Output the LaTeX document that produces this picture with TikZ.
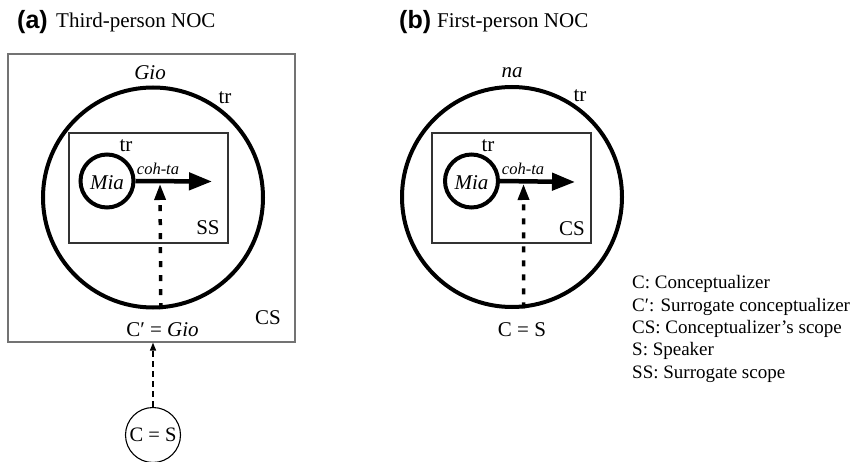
\documentclass[tikz,border=0pt]{standalone}
\usepackage{fontspec}
\setmainfont{Liberation Serif}
\newfontfamily\headfont{Liberation Sans}
\usetikzlibrary{arrows.meta}

\tikzset{
  txt/.style={inner sep=0pt, font=\fontsize{21}{25}\selectfont},
  ittxt/.style={inner sep=0pt, font=\fontsize{21}{25}\selectfont\itshape},
  smalltxt/.style={inner sep=0pt, font=\fontsize{16.5}{20}\selectfont\itshape},
  legend/.style={inner sep=0pt, anchor=base west, font=\fontsize{19}{22}\selectfont},
  panelhead/.style={inner sep=0pt, anchor=base west, font=\headfont\bfseries\fontsize{25}{29}\selectfont},
  paneltitle/.style={inner sep=0pt, anchor=base west, font=\fontsize{21}{25}\selectfont},
  ring/.style={draw, circle, line width=4pt, inner sep=0pt},
  scopebox/.style={draw=black!55, line width=1.2pt, inner sep=0pt},
  innerbox/.style={draw=black!80, line width=1.2pt, inner sep=0pt},
  speaker/.style={draw, circle, line width=1.1pt, inner sep=0pt, minimum size=55pt,
    font=\fontsize{20.5}{24}\selectfont},
  profile/.style={line width=4.5pt, -{Triangle[length=23pt,width=17pt]}},
  viewline/.style={line width=3.5pt, dash pattern=on 6pt off 8pt,
    -{Triangle[length=16pt,width=11pt]}},
  linkline/.style={line width=1.4pt, dash pattern=on 6pt off 4pt,
    -{Triangle[length=8pt,width=6pt]}}
}

\begin{document}
\begin{tikzpicture}[x=1pt,y=-1pt]
\useasboundingbox (0,0) rectangle (854,462);

% ---------- (a) Third-person NOC ----------
\node[panelhead] (hA) at (17,28.5) {(a)};
\node[paneltitle] (tA) at (56,28) {Third-person NOC};

\node[scopebox, minimum width=287pt, minimum height=288pt] (csA) at (151.5,198) {};
\node[ring, minimum size=220pt] (ringA) at (153,197.5) {};
\node[innerbox, minimum width=159pt, minimum height=110pt] (ssA) at (148.5,188) {};
\node[ring, minimum size=53pt] (miaA) at (107,181) {};
\node[ittxt] (miaAtxt) at (107,183) {Mia};

\coordinate (tipA) at (212,181.5);
\draw[profile] (miaA.east) -- (tipA);
\coordinate (hitA) at (160,184);
\draw[viewline] (ringA.-86.3) -- (hitA);

\node[ittxt] (gioA) at (150,73) {Gio};
\node[txt] (trA) at (225,98) {tr};
\node[txt] (trmA) at (126,146) {tr};
\node[smalltxt] (cohA) at (158,169) {coh-ta};
\node[txt] (ssAlab) at (208,228) {SS};
\node[txt] (csAlab) at (268,318) {CS};
\node[txt] (cprA) at (162.5,330) {C′ = \textit{Gio}};

\node[speaker] (spA) at (153,435) {C = S};
\draw[linkline] (spA.north) -- (spA.north |- csA.south);

% ---------- (b) First-person NOC ----------
\node[panelhead] (hB) at (399,28.5) {(b)};
\node[paneltitle] (tB) at (437,28) {First-person NOC};

\node[ring, minimum size=220pt] (ringB) at (512,197) {};
\node[innerbox, minimum width=159pt, minimum height=110pt] (csB) at (511.5,188) {};
\node[ring, minimum size=53pt] (miaB) at (471.5,181) {};
\node[ittxt] (miaBtxt) at (471.5,183) {Mia};

\coordinate (tipB) at (575,182);
\draw[profile] (miaB.east) -- (tipB);
\coordinate (hitB) at (523.5,184);
\draw[viewline] (ringB.-84.2) -- (hitB);

\node[ittxt] (naB) at (512,73) {na};
\node[txt] (trB) at (580,96) {tr};
\node[txt] (trmB) at (488,146) {tr};
\node[smalltxt] (cohB) at (523,169) {coh-ta};
\node[txt] (csBlab) at (572,229) {CS};
\node[txt] (spB) at (522,330) {C = S};

% ---------- key ----------
\node[legend] (k1) at (632,289) {C: Conceptualizer};
\node[legend] (k2) at (632,311.3) {C′: Surrogate conceptualizer};
\node[legend] (k3) at (632,333.6) {CS: Conceptualizer’s scope};
\node[legend] (k4) at (632,355.9) {S: Speaker};
\node[legend] (k5) at (632,378.2) {SS: Surrogate scope};
\end{tikzpicture}
\end{document}
